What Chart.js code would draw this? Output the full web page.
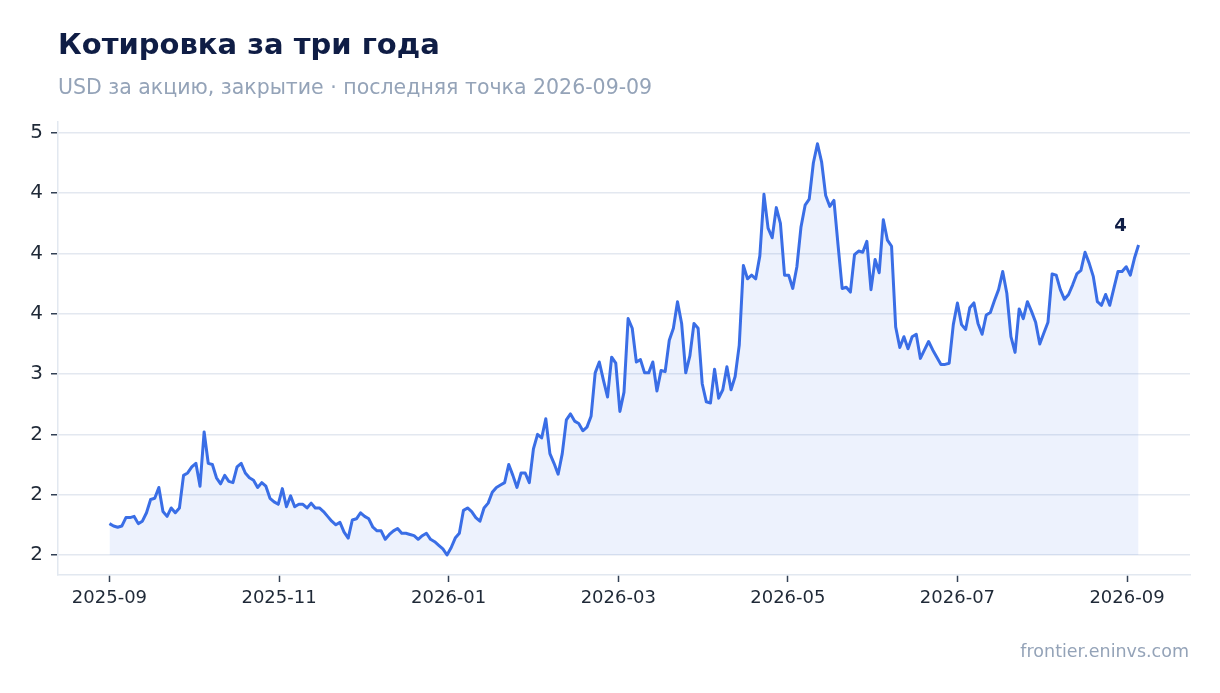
<!DOCTYPE html>
<html lang="ru">
<head>
<meta charset="utf-8">
<title>Котировка за три года</title>
<script src="https://cdn.jsdelivr.net/npm/chart.js@4.4.1/dist/chart.umd.min.js"></script>
<style>
  html, body { margin: 0; padding: 0; background: #fff; }
  #wrap { position: relative; width: 1220px; height: 693px; font-family: "DejaVu Sans", sans-serif; }
  #wrap canvas { position: absolute; left: 0; top: 0; }
  .title { position: absolute; left: 58px; top: 27px; font-size: 29px; font-weight: bold; color: #0f1d45; white-space: nowrap; }
  .subtitle { position: absolute; left: 58px; top: 75px; font-size: 20.5px; color: #94a3b8; white-space: nowrap; }
  .source { position: absolute; right: 31px; top: 641px; font-size: 17.5px; color: #94a3b8; white-space: nowrap; }
</style>
</head>
<body>
<div id="wrap">
  <canvas id="priceChart" width="1220" height="693"></canvas>
  <div class="title">Котировка за три года</div>
  <div class="subtitle">USD за акцию, закрытие · последняя точка 2026-09-09</div>
  <div class="source">frontier.eninvs.com</div>
</div>
<script>
// цены закрытия, по торговым дням (251 точка)
var closes = [
    1.76,1.74,1.73,1.74,1.81,1.81,1.82,1.76,1.78,1.85,1.96,1.97,2.06,1.86,1.82,1.89,1.85,1.89,2.16,2.18,
    2.23,2.26,2.07,2.52,2.26,2.25,2.14,2.09,2.16,2.11,2.10,2.23,2.26,2.18,2.14,2.12,2.06,2.10,2.07,1.97,
    1.94,1.92,2.05,1.90,1.99,1.90,
    1.92,1.92,1.89,1.93,1.89,1.89,1.86,1.82,1.78,1.75,1.77,1.69,1.64,1.79,1.80,1.85,1.82,1.80,1.73,1.70,
    1.70,1.63,1.67,1.70,1.72,1.68,1.68,1.67,1.66,1.63,1.66,1.68,1.63,1.61,1.58,1.55,1.50,1.56,1.64,1.68,
    1.87,1.89,1.86,1.81,
    1.78,1.89,1.93,2.02,2.06,2.08,2.10,2.25,2.16,2.06,2.18,2.18,2.10,2.38,2.50,2.47,2.63,2.34,2.26,2.17,
    2.34,2.62,2.67,2.61,2.59,2.53,2.56,2.65,3.01,3.10,2.95,2.81,3.14,3.09,2.69,
    2.85,3.46,3.38,3.10,3.12,3.01,3.01,3.10,2.86,3.03,3.02,3.28,3.38,3.60,3.42,3.01,3.15,3.42,3.38,2.92,
    2.77,2.76,3.04,2.80,2.87,3.06,2.87,2.98,3.24,3.90,3.79,3.82,3.79,3.98,4.49,4.21,4.13,4.38,4.25,
    3.82,3.82,3.71,3.89,4.22,4.40,4.45,4.75,4.91,4.76,4.48,4.39,4.44,4.07,3.71,3.72,3.68,3.99,4.02,4.01,
    4.10,3.70,3.95,3.84,4.28,4.11,4.06,3.39,3.22,3.31,3.21,3.31,3.33,3.13,3.20,3.27,3.20,3.14,3.08,3.08,
    3.09,3.41,
    3.59,3.41,3.37,3.55,3.59,3.42,3.33,3.49,3.51,3.61,3.70,3.85,3.67,3.31,3.18,3.54,3.46,3.60,3.52,3.43,
    3.25,3.34,3.43,3.83,3.82,3.70,3.62,3.66,3.74,3.83,3.86,4.01,3.92,3.81,3.60,3.57,3.66,3.57,3.71,3.85,
    3.85,3.89,3.82,3.96,4.07
];

// подписи осей
var xTicks = [0, 41.2, 82.4, 123.6, 164.8, 206, 247.2];
var xTickLabels = ['2025-09', '2025-11', '2026-01', '2026-03', '2026-05', '2026-07', '2026-09'];
var yTicks = [1.5, 2.0, 2.5, 3.0, 3.5, 4.0, 4.5, 5.0];
var yTickLabels = ['2', '2', '2', '3', '4', '4', '4', '5'];
var lastLabel = '4';

var points = closes.map(function(v, i) { return { x: i, y: v }; });
var baseLine = Math.min.apply(null, closes);

var endLabel = {
    id: 'endLabel',
    afterDatasetsDraw: function(chart) {
        var pts = chart.getDatasetMeta(0).data;
        var pt = pts[pts.length - 1];
        var ctx = chart.ctx;
        ctx.save();
        ctx.font = 'bold 18px "DejaVu Sans"';
        ctx.fillStyle = '#0f1d45';
        ctx.textAlign = 'center';
        ctx.textBaseline = 'alphabetic';
        ctx.fillText(lastLabel, pt.x - 18, pt.y - 14);
        ctx.restore();
    }
};

new Chart(document.getElementById('priceChart').getContext('2d'), {
    type: 'line',
    data: {
        datasets: [{
            data: points,
            borderColor: '#3a6ee6',
            backgroundColor: 'rgba(58,110,230,0.09)',
            borderWidth: 3,
            borderJoinStyle: 'round',
            pointRadius: 0,
            tension: 0,
            fill: { target: { value: baseLine } }
        }]
    },
    options: {
        responsive: false,
        animation: false,
        devicePixelRatio: 1,
        layout: { padding: { top: 122, right: 30, bottom: 78, left: 0 } },
        plugins: { legend: { display: false }, tooltip: { enabled: false } },
        scales: {
            x: {
                type: 'linear',
                min: -12.5,
                max: 262.5,
                afterBuildTicks: function(scale) {
                    scale.ticks = xTicks.map(function(v) { return { value: v }; });
                },
                afterFit: function(scale) { scale.height = 40; },
                ticks: {
                    autoSkip: false,
                    maxRotation: 0,
                    padding: 6,
                    color: '#1f2937',
                    font: { family: 'DejaVu Sans', size: 18 },
                    callback: function(v, i) { return xTickLabels[i]; }
                },
                grid: { drawOnChartArea: false, tickLength: 7, tickColor: '#334155', tickWidth: 1.5 },
                border: { color: '#e2e8f0', width: 1.5 }
            },
            y: {
                min: 1.334,
                max: 5.09,
                afterBuildTicks: function(scale) {
                    scale.ticks = yTicks.map(function(v) { return { value: v }; });
                },
                afterFit: function(scale) { scale.width = 58; },
                ticks: {
                    padding: 8,
                    color: '#1f2937',
                    font: { family: 'DejaVu Sans', size: 20 },
                    callback: function(v, i) { return yTickLabels[i]; }
                },
                grid: { color: '#e3e8f0', lineWidth: 1.5, tickLength: 7, tickColor: '#334155', tickWidth: 1.5 },
                border: { color: '#e2e8f0', width: 1.5 }
            }
        }
    },
    plugins: [endLabel]
});
</script>
</body>
</html>
